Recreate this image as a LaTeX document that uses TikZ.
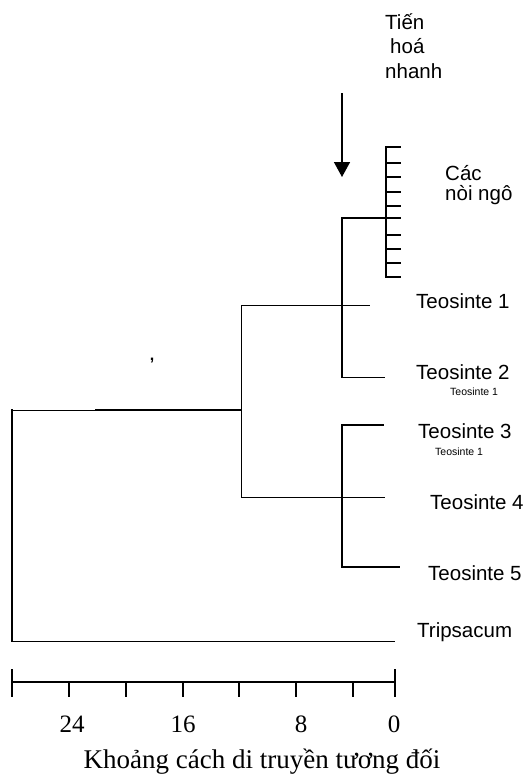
\documentclass[tikz,border=0pt]{standalone}
\usepackage{fontspec}
\setmainfont{Liberation Sans}
\newfontfamily\lserif{Liberation Serif}
\usetikzlibrary{arrows.meta}
\begin{document}
\begin{tikzpicture}[x=1pt,y=-1pt,
  branch/.style={line width=1.4pt,line cap=rect},
  thinbranch/.style={line width=0.9pt},
  lab/.style={anchor=base west,inner sep=0pt,font=\fontsize{20.5}{22}\selectfont},
  smalllab/.style={anchor=base west,inner sep=0pt,font=\fontsize{10.5}{12}\selectfont},
  num/.style={anchor=base,inner sep=0pt,font=\lserif\fontsize{25}{28}\selectfont},
  axisline/.style={line width=1.2pt}]
\useasboundingbox (0,0) rectangle (530,776);
% tree coordinates
\coordinate (r1) at (12,410);
\coordinate (r2) at (12,641);
\coordinate (a) at (241,410);
\coordinate (a1) at (241,305);
\coordinate (a2) at (241,497);
\coordinate (b1) at (342,218);
\coordinate (b2) at (342,377);
\coordinate (t1e) at (370,305);
\coordinate (t2e) at (385,377);
\coordinate (m) at (386,218);
\coordinate (mt) at (386,147);
\coordinate (mb) at (386,277);
\coordinate (c1) at (342,425);
\coordinate (c2) at (342,567);
\coordinate (t3e) at (383,425);
\coordinate (t4e) at (385,497);
\coordinate (t5e) at (399,567);
\coordinate (tre) at (395,641);
% root
\draw[branch] (r1) -- (r2);
\draw[thinbranch] (r1) -- (a);
\draw[line width=2pt] (95,410) -- (a);
\draw[thinbranch] (r2) -- (tre);
% node A
\draw[thinbranch] (a1) -- (a2);
\draw[thinbranch] (a1) -- (t1e);
\draw[branch] (b1) -- (b2);
\draw[thinbranch] (b2) -- (t2e);
\draw[branch] (b1) -- (m);
\draw[branch] (mt) -- (mb);
\foreach \yy in {147,163,177,192,206,218,235,249,263,277}
  \draw[branch] (386,\yy) -- (400,\yy);
% lower clade
\draw[thinbranch] (a2) -- (t4e);
\draw[branch] (c1) -- (c2);
\draw[branch] (c1) -- (t3e);
\draw[branch] (c2) -- (t5e);
% arrow
\coordinate (arT) at (342,93);
\coordinate (arB) at (342,177);
\draw[line width=1.6pt,-{Triangle[length=15pt,width=16pt]}] (arT) -- (arB);
% labels
\node[lab] (tien) at (385,30) {Tiến};
\node[lab] (hoa) at (390,53) {hoá};
\node[lab] (nhanh) at (385,78) {nhanh};
\node[lab] (cac) at (445,180) {Các};
\node[lab] (noi) at (445,200) {nòi ngô};
\node[lab] (te1) at (416,308) {Teosinte 1};
\node[lab] (te2) at (416,379) {Teosinte 2};
\node[smalllab] (s2) at (450,395) {Teosinte 1};
\node[lab] (te3) at (418,438) {Teosinte 3};
\node[smalllab] (s3) at (435,455) {Teosinte 1};
\node[lab] (te4) at (430,509) {Teosinte 4};
\node[lab] (te5) at (428,580) {Teosinte 5};
\node[lab] (trip) at (417,637) {Tripsacum};
\node[inner sep=0pt,font=\bfseries\fontsize{16}{16}\selectfont] (comma) at (152,361) {,};
% axis
\coordinate (axL) at (12,682);
\coordinate (axR) at (395,682);
\draw[axisline] (axL) -- (axR);
\draw[line width=1.8pt] (113,682) -- (313,682);
\draw[axisline] (12,669) -- (12,697);
\draw[axisline] (395,669) -- (395,697);
\foreach \xx in {69,126,183,239,296,353}
  \draw[axisline] (\xx,682) -- (\xx,697);
\node[num] (n24) at (72,732) {24};
\node[num] (n16) at (183,732) {16};
\node[num] (n8) at (301,732) {8};
\node[num] (n0) at (394,732) {0};
\node[anchor=base,inner sep=0pt,font=\lserif\fontsize{27}{30}\selectfont] (title) at (262,768) {Khoảng cách di truyền tương đối};
\end{tikzpicture}
\end{document}
